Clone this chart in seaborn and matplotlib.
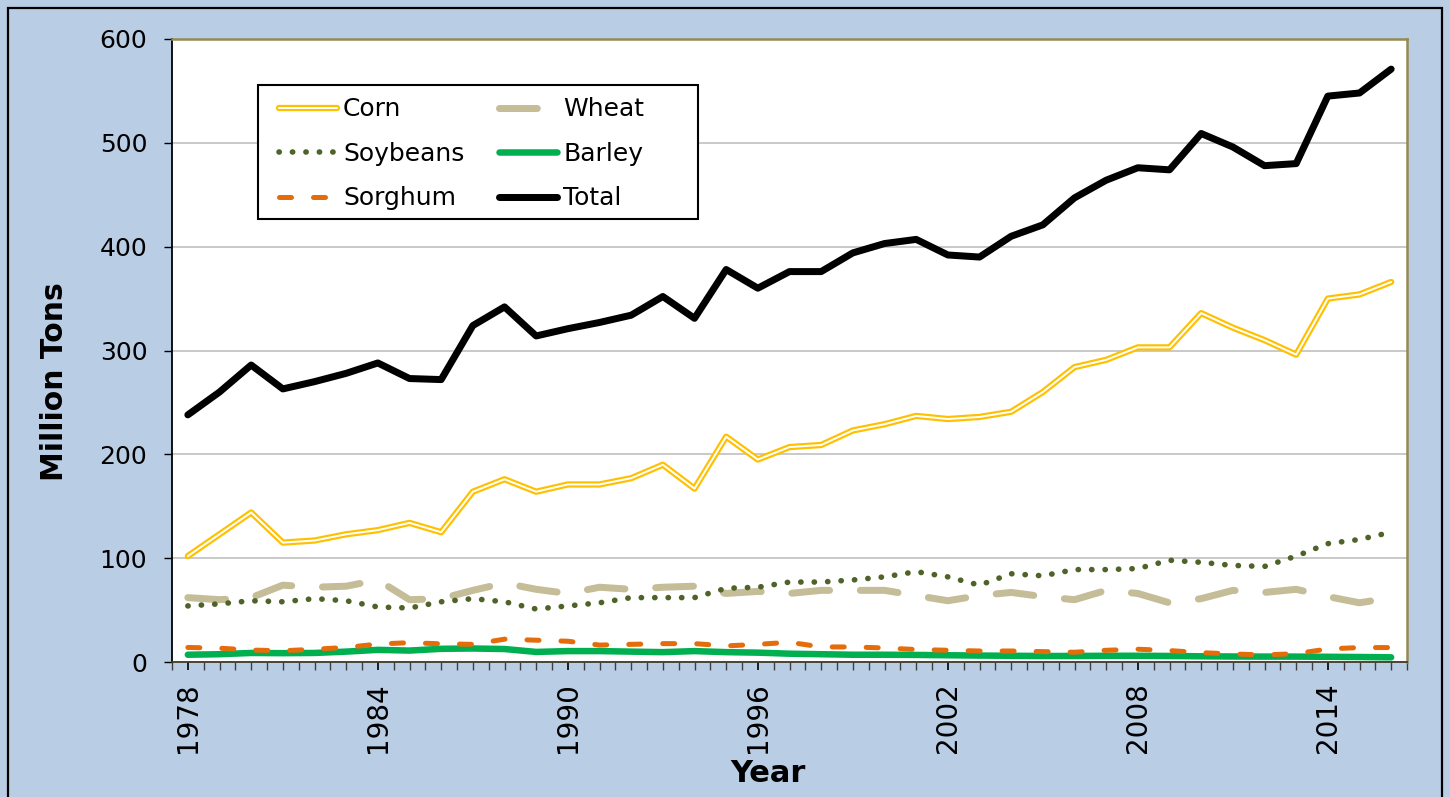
import numpy as np
import pandas as pd
import matplotlib
matplotlib.use("Agg")
import matplotlib.pyplot as plt
import matplotlib.patheffects as pe
from matplotlib.patches import Rectangle
from matplotlib.ticker import MultipleLocator
import seaborn as sns

years = list(range(1978, 2017))
corn = [102, 123, 144, 115, 117, 123, 127, 134, 125, 164, 176, 164, 171, 171, 177, 190, 167,
        217, 195, 207, 209, 223, 229, 237, 234, 236, 241, 260, 284, 291, 303, 303, 336, 322,
        310, 296, 350, 354, 366]
soybeans = [54, 56, 59, 58, 61, 59, 53, 52, 58, 61, 58, 51, 54, 57, 62, 62, 62, 71, 72, 77,
            77, 79, 82, 87, 82, 74, 85, 83, 89, 89, 90, 98, 96, 93, 92, 102, 114, 118, 125]
wheat = [62, 60, 62, 74, 72, 73, 79, 60, 61, 69, 76, 70, 66, 72, 70, 72, 73, 66, 68, 66, 69,
         69, 69, 64, 59, 64, 67, 63, 60, 69, 66, 57, 61, 69, 67, 70, 63, 57, 62]
sorghum = [14, 13.3, 11.5, 10.8, 12.3, 14, 17.3, 18.6, 17.5, 17, 22, 21, 20, 16.3, 17, 17.7,
           17.7, 15.5, 17, 19, 14.5, 14.5, 13.5, 12, 11.3, 10.6, 10.6, 10, 9.4, 11.3, 12.3, 11,
           9, 7.7, 6.8, 8, 12.6, 13.9, 13.9]
barley = [7, 7.5, 8.7, 8.5, 8.7, 10, 11.7, 11, 12.7, 13, 12.5, 9.7, 10.5, 10.5, 10, 9.5,
          10.5, 9.5, 9, 8, 7.5, 7, 7, 6.8, 6.5, 6.2, 6, 5.8, 5.8, 6, 6, 5.8, 5.5, 5.3, 5.2,
          5.2, 5, 4.8, 4.5]
total = [238, 260, 286, 263, 270, 278, 288, 273, 272, 324, 342, 314, 321, 327, 334, 352, 331,
         378, 360, 376, 376, 394, 403, 407, 392, 390, 410, 421, 447, 464, 476, 474, 509, 496,
         478, 480, 545, 548, 571]
tick_years = [1978, 1984, 1990, 1996, 2002, 2008, 2014]
y_ticks = [0, 100, 200, 300, 400, 500, 600]

df = pd.DataFrame({"Year": years, "Corn": corn, "Soybeans": soybeans, "Wheat": wheat,
                   "Sorghum": sorghum, "Barley": barley, "Total": total})

sns.set_theme(style="white")
plt.rcParams["font.family"] = ["DejaVu Sans"]
plt.rcParams["text.color"] = "black"

BG = "#B9CDE5"
fig = plt.figure(figsize=(14.5, 7.97), dpi=100, facecolor=BG)
ax = fig.add_axes([172 / 1450, 1 - 662 / 797, 1235 / 1450, 623 / 797])
ax.set_facecolor("white")

px = 0.72  # points per pixel at 100 dpi

handles = {}
# Corn: double gold line
sns.lineplot(data=df, x="Year", y="Corn", ax=ax, color="white", lw=2.0 * px,
             solid_joinstyle="round", solid_capstyle="round",
             path_effects=[pe.Stroke(linewidth=6.3 * px, foreground="#FFC000",
                                     joinstyle="round", capstyle="round"), pe.Normal()],
             label="Corn", zorder=3)
handles["Corn"] = ax.get_lines()[-1]
sns.lineplot(data=df, x="Year", y="Wheat", ax=ax, color="#C4BD97", lw=7 * px,
             linestyle=(0, (5.4, 4.4)), dash_capstyle="round", dash_joinstyle="round",
             label="Wheat", zorder=4)
handles["Wheat"] = ax.get_lines()[-1]
sns.lineplot(data=df, x="Year", y="Soybeans", ax=ax, color="#4F6228", lw=5.6 * px,
             linestyle=(0, (0.05, 2.35)), dash_capstyle="round",
             label="Soybeans", zorder=5)
handles["Soybeans"] = ax.get_lines()[-1]
sns.lineplot(data=df, x="Year", y="Barley", ax=ax, color="#00B050", lw=6.5 * px,
             solid_capstyle="round", solid_joinstyle="round",
             label="Barley", zorder=6)
handles["Barley"] = ax.get_lines()[-1]
sns.lineplot(data=df, x="Year", y="Sorghum", ax=ax, color="#E46C0A", lw=5 * px,
             linestyle=(0, (2.4, 4.4)), dash_capstyle="round",
             label="Sorghum", zorder=7)
handles["Sorghum"] = ax.get_lines()[-1]
sns.lineplot(data=df, x="Year", y="Total", ax=ax, color="black", lw=7 * px,
             solid_capstyle="round", solid_joinstyle="round",
             label="Total", zorder=8)
handles["Total"] = ax.get_lines()[-1]

if ax.get_legend() is not None:
    ax.get_legend().remove()

ax.set_xlim(years[0] - 0.5, years[-1] + 0.5)
ax.set_ylim(0, 600)
ax.set_yticks(y_ticks)
ax.set_yticklabels([str(v) for v in y_ticks])
ax.set_xticks(tick_years)
ax.set_xticklabels([str(v) for v in tick_years], rotation=90)
ax.xaxis.set_minor_locator(MultipleLocator(0.5))

ax.yaxis.grid(True, color="#C0C0C0", lw=1.2)
ax.xaxis.grid(False)
ax.set_axisbelow(True)

ax.tick_params(axis="y", which="major", direction="out", length=8 * px, width=1.0,
               color="black", labelsize=18, pad=12, left=True, labelcolor="black")
ax.tick_params(axis="x", which="major", direction="out", length=8 * px, width=1.2,
               color="black", labelsize=20, pad=9, bottom=True, labelcolor="black")
ax.tick_params(axis="x", which="minor", direction="out", length=8 * px, width=1.0,
               color="#404040", bottom=True)

for side in ["left", "bottom"]:
    ax.spines[side].set_color("black")
    ax.spines[side].set_linewidth(1.3)
    ax.spines[side].set_visible(True)
for side in ["top", "right"]:
    ax.spines[side].set_color("#948A54")
    ax.spines[side].set_linewidth(1.8)
    ax.spines[side].set_visible(True)
ax.spines["bottom"].set_color("#403B28")

ax.set_xlabel("Year", fontsize=22, fontweight="bold", color="black")
ax.set_ylabel("Million Tons", fontsize=21.5, fontweight="bold", color="black")
ax.xaxis.set_label_coords((768 - 172) / 1235, -(773 - 662) / 623)
ax.yaxis.set_label_coords((55 - 172) / 1235, (662 - 382) / 623)
ax.xaxis.label.set_va("center")
ax.yaxis.label.set_va("center")

# legend frame drawn as a fixed box (inside the axes so the legend sits on top)
frame = Rectangle((258 / 1450, 1 - 219 / 797), 440 / 1450, 134 / 797,
                  transform=fig.transFigure, facecolor="white", edgecolor="black",
                  linewidth=1.5, zorder=15, clip_on=False)
ax.add_artist(frame)

order = ["Corn", "Soybeans", "Sorghum", "Wheat", "Barley", "Total"]
leg = ax.legend([handles[k] for k in order], order, ncol=2, loc="upper left",
                bbox_to_anchor=(268 / 1450, 1 - 86 / 797), bbox_transform=fig.transFigure,
                borderaxespad=0, frameon=False, fontsize=18,
                handlelength=2.3, handletextpad=0.25, labelspacing=0.82,
                columnspacing=1.4, borderpad=0.45)
for t in leg.get_texts():
    t.set_color("black")
leg.set_zorder(20)

fig.patches.append(Rectangle((8 / 1450, -0.02), (1442 - 8) / 1450, 1 - 8 / 797 + 0.02,
                             transform=fig.transFigure, fill=False, edgecolor="black",
                             linewidth=1.6, zorder=0))

fig.savefig("out.png", dpi=100, facecolor=BG)
